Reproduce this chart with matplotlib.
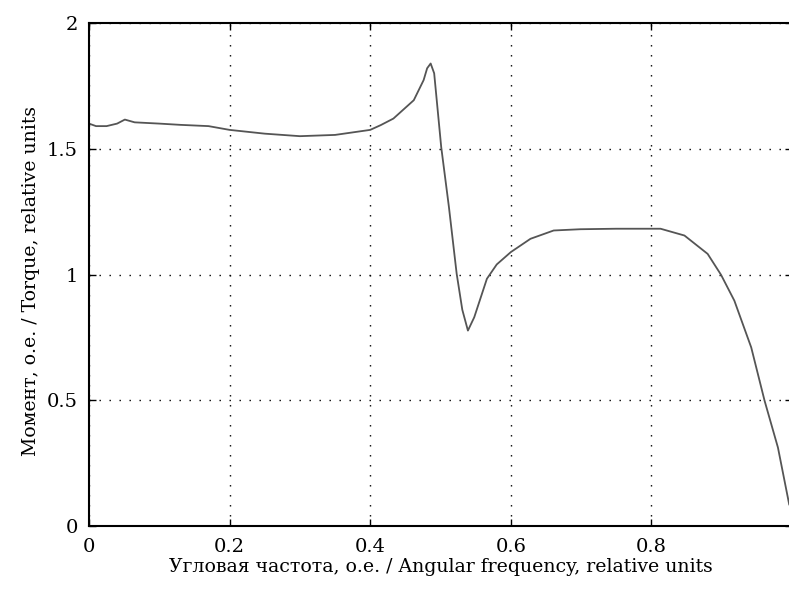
import matplotlib
matplotlib.use("Agg")
import matplotlib.pyplot as plt

freq = [0, 0.01, 0.025, 0.04, 0.051, 0.065, 0.1, 0.13, 0.17, 0.2, 0.25, 0.3, 0.35, 0.4,
        0.415, 0.433, 0.462, 0.476, 0.481, 0.486, 0.491, 0.501, 0.512, 0.523, 0.531,
        0.539, 0.548, 0.566, 0.58, 0.6, 0.628, 0.661, 0.699, 0.75, 0.813, 0.847, 0.880,
        0.899, 0.918, 0.942, 0.961, 0.980, 0.996]
torque = [1.60, 1.59, 1.59, 1.60, 1.616, 1.605, 1.60, 1.595, 1.59, 1.575, 1.56, 1.55,
          1.555, 1.575, 1.594, 1.62, 1.693, 1.773, 1.82, 1.839, 1.80, 1.507, 1.268, 1.003,
          0.86, 0.777, 0.83, 0.983, 1.04, 1.089, 1.142, 1.175, 1.18, 1.182, 1.182, 1.155,
          1.082, 0.999, 0.896, 0.710, 0.498, 0.312, 0.086]
xticks = [0, 0.2, 0.4, 0.6, 0.8]
xticklabels = ["0", "0.2", "0.4", "0.6", "0.8"]
yticks = [0, 0.5, 1, 1.5, 2]
yticklabels = ["0", "0.5", "1", "1.5", "2"]

plt.rcParams['font.family'] = ['DejaVu Serif']

fig = plt.figure(figsize=(7.89, 5.92), dpi=100)
ax = fig.add_axes([89/789, 66/592, 703/789, 503/592])
ax.plot(freq, torque, color='#555555', lw=1.3)
ax.set_xlim(0, 1)
ax.set_ylim(0, 2)
ax.set_xticks(xticks)
ax.set_xticklabels(xticklabels)
ax.set_yticks(yticks)
ax.set_yticklabels(yticklabels)
ax.grid(True, color='black', linestyle=(0, (1, 6.2)), linewidth=1.0)
ax.tick_params(direction='in', length=5, width=1, top=True, right=True, labelsize=14)
ax.tick_params(axis='x', pad=9)
ax.tick_params(axis='y', pad=8)
for s in ax.spines.values():
    s.set_linewidth(1.5)
ax.set_xlabel("Угловая частота, о.е. / Angular frequency, relative units", fontsize=13.6)
ax.set_ylabel("Момент, о.е. / Torque, relative units", fontsize=13.6)
ax.xaxis.set_label_coords(0.5, -0.0636)
ax.yaxis.set_label_coords(-0.0697, 0.487)
fig.savefig("out.png", dpi=100)
